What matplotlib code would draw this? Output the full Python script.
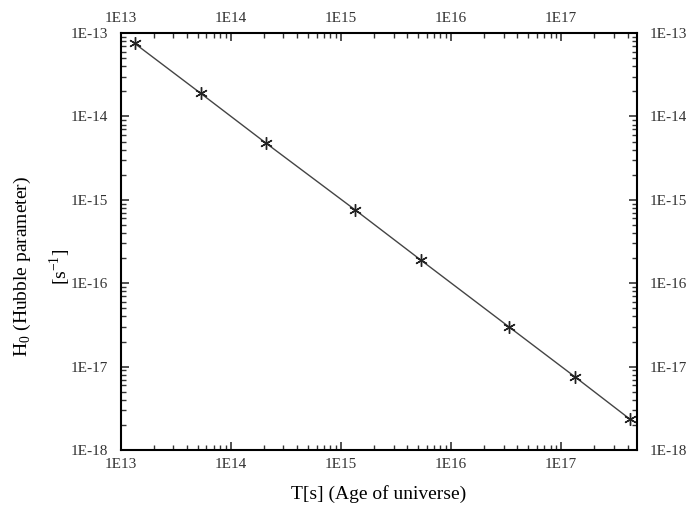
import numpy as np
import matplotlib.pyplot as plt
from matplotlib.ticker import LogLocator, FixedFormatter, FixedLocator, NullFormatter

plt.rcParams['font.family'] = ['Liberation Serif', 'DejaVu Serif']
plt.rcParams['mathtext.fontset'] = 'custom'
plt.rcParams['mathtext.rm'] = 'Liberation Serif'

# age of universe T [s] and Hubble parameter H0 [1/s]
age_s = [1.34e13, 5.3e13, 2.1e14, 1.34e15, 5.3e15, 3.35e16, 1.34e17, 4.2e17]
hubble = [7.5e-14, 1.9e-14, 4.75e-15, 7.6e-16, 1.9e-16, 3.0e-17, 7.5e-18, 2.35e-18]

x_ticks = [1e13, 1e14, 1e15, 1e16, 1e17]
x_labels = ['1E13', '1E14', '1E15', '1E16', '1E17']
y_ticks = [1e-18, 1e-17, 1e-16, 1e-15, 1e-14, 1e-13]
y_labels = ['1E-18', '1E-17', '1E-16', '1E-15', '1E-14', '1E-13']

fig = plt.figure(figsize=(6.86, 5.08), dpi=100)
ax = fig.add_axes([0.176, 0.114, 0.753, 0.821])

ax.plot(age_s, hubble, color='#444444', lw=1.0, marker=(6, 2, 0),
        markersize=9, markeredgewidth=1.0, markeredgecolor='#222222')

ax.set_xscale('log')
ax.set_yscale('log')
ax.set_xlim(1e13, 4.9e17)
ax.set_ylim(1e-18, 1e-13)

ax.xaxis.set_major_locator(FixedLocator(x_ticks))
ax.xaxis.set_major_formatter(FixedFormatter(x_labels))
ax.yaxis.set_major_locator(FixedLocator(y_ticks))
ax.yaxis.set_major_formatter(FixedFormatter(y_labels))
ax.xaxis.set_minor_locator(LogLocator(base=10, subs=np.arange(2, 10)))
ax.yaxis.set_minor_locator(LogLocator(base=10, subs=np.arange(2, 10)))
ax.xaxis.set_minor_formatter(NullFormatter())
ax.yaxis.set_minor_formatter(NullFormatter())

ax.tick_params(which='both', direction='in', top=True, right=True,
               labeltop=True, labelright=True, labelsize=11, colors='#333333')
ax.tick_params(which='major', length=6, width=1.2)
ax.tick_params(which='minor', length=3.5, width=1.0)
ax.tick_params(axis='y', which='major', pad=9)
ax.tick_params(axis='x', which='major', pad=6)
for s in ax.spines.values():
    s.set_linewidth(1.5)

ax.set_xlabel('T[s] (Age of universe)', fontsize=14, labelpad=10)
ax.set_ylabel('H$_0$ (Hubble parameter)\n[s$^{-1}$]', fontsize=14, linespacing=1.7)
ax.yaxis.set_label_coords(-0.093, 0.44)

fig.savefig('out.png', dpi=100)
